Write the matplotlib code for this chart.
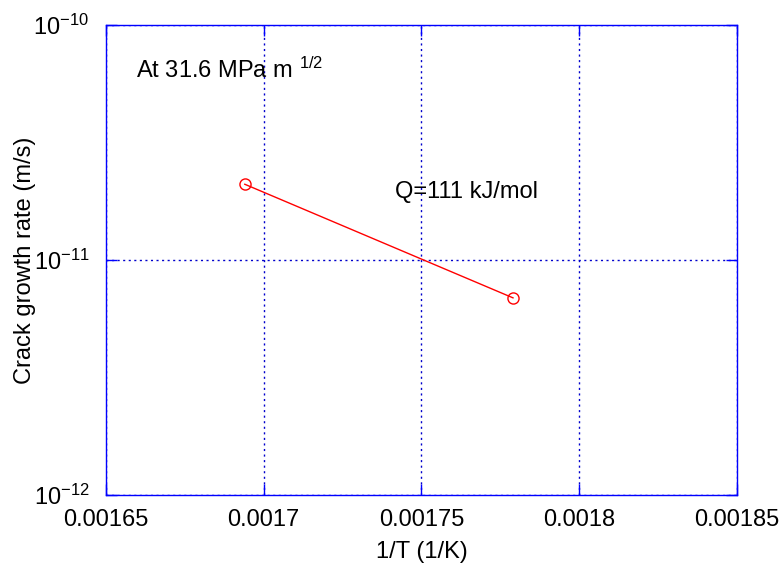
import matplotlib
matplotlib.use("Agg")
import matplotlib.pyplot as plt
from matplotlib.ticker import FixedLocator, FixedFormatter, NullLocator

plt.rcParams["font.family"] = ["Liberation Sans", "DejaVu Sans"]
plt.rcParams["mathtext.fontset"] = "custom"
plt.rcParams["mathtext.rm"] = "Liberation Sans"
plt.rcParams["mathtext.it"] = "Liberation Sans"

inv_temp = [0.001694, 0.001779]
growth_rate = [2.1e-11, 6.9e-12]

x_ticks = [0.00165, 0.0017, 0.00175, 0.0018, 0.00185]
x_tick_labels = ["0.00165", "0.0017", "0.00175", "0.0018", "0.00185"]
y_ticks = [1e-12, 1e-11, 1e-10]
y_tick_labels = [r"$10^{-12}$", r"$10^{-11}$", r"$10^{-10}$"]

fig = plt.figure(figsize=(7.82, 5.65), dpi=100)
ax = fig.add_axes([0.1355, 0.1239, 0.8070, 0.8319])

ax.plot(inv_temp, growth_rate, color="red", linewidth=1.0,
        marker="o", markersize=8, markerfacecolor="none", markeredgewidth=1.0)

ax.set_yscale("log")
ax.set_xlim(0.00165, 0.00185)
ax.set_ylim(1e-12, 1e-10)
ax.xaxis.set_major_locator(FixedLocator(x_ticks))
ax.xaxis.set_major_formatter(FixedFormatter(x_tick_labels))
ax.yaxis.set_major_locator(FixedLocator(y_ticks))
ax.yaxis.set_major_formatter(FixedFormatter(y_tick_labels))
ax.yaxis.set_minor_locator(NullLocator())

ax.grid(True, which="major", color="#0000cc", linestyle=(0, (1.5, 2.5)), linewidth=1.0)
ax.tick_params(which="both", direction="in", top=True, right=True,
               color="#0000ff", labelsize=17, labelcolor="black")
ax.tick_params(which="major", length=8, width=1.0)
ax.tick_params(axis="x", pad=10)
ax.tick_params(axis="y", pad=12)
for spine in ax.spines.values():
    spine.set_color("#0000ff")
    spine.set_linewidth(1.0)

ax.set_xlabel("1/T (1/K)", fontsize=17, labelpad=7)
ax.set_ylabel("Crack growth rate (m/s)", fontsize=17, labelpad=-2)

ax.text(0.0016595, 6.4e-11, r"At 31.6 MPa m $^{1/2}$", fontsize=17, va="center", ha="left")
ax.text(0.0017415, 1.95e-11, "Q=111 kJ/mol", fontsize=17, va="center", ha="left")

fig.savefig("out.png", dpi=100)
